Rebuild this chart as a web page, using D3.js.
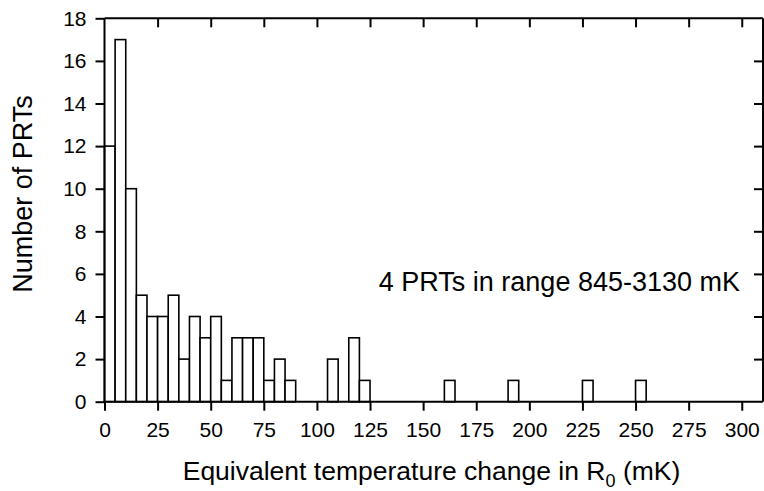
<!DOCTYPE html>
<html><head><meta charset="utf-8">
<script src="https://cdn.jsdelivr.net/npm/d3@7"></script>
<style>body{margin:0;background:#fff;} text{font-family:Arial,"Liberation Sans",sans-serif;fill:#000;}</style>
</head><body>
<svg id="chart" width="764" height="491"></svg>
<script>
const binStarts = [0,5,10,15,20,25,30,35,40,45,50,55,60,65,70,75,80,85,105,115,120,160,190,225,250];
const counts    = [12,17,10,5,4,4,5,2,4,3,4,1,3,3,3,1,2,1,2,3,1,1,1,1,1];
const binWidth = 5;
const xTicks = [0,25,50,75,100,125,150,175,200,225,250,275,300];
const yTicks = [0,2,4,6,8,10,12,14,16,18];
const xTitle = "Equivalent temperature change in R";
const yTitle = "Number of PRTs";
const note = "4 PRTs in range 845-3130 mK";

(function(){
const svg = d3.select("#chart");
const L = 104.5, R = 763, T = 18.3, B = 401.7;
const x = d3.scaleLinear().domain([0,310]).range([L,R]);
const y = d3.scaleLinear().domain([0,18]).range([B,T]);

svg.append("g").selectAll("rect").data(binStarts).join("rect")
  .attr("x", (d)=>x(d)).attr("width", (d)=>x(d+binWidth)-x(d))
  .attr("y", (d,i)=>y(counts[i])).attr("height", (d,i)=>y(0)-y(counts[i]))
  .attr("fill","#fff").attr("stroke","#000").attr("stroke-width",1.6);

const ax = svg.append("g");
const gB = ax.append("g").attr("transform",`translate(0,${B})`)
  .call(d3.axisBottom(x).tickValues(xTicks).tickSize(9).tickPadding(11).tickSizeOuter(0));
const gT = ax.append("g").attr("transform",`translate(0,${T})`)
  .call(d3.axisBottom(x).tickValues(xTicks).tickSize(9).tickFormat("").tickSizeOuter(0));
const gL = ax.append("g").attr("transform",`translate(${L},0)`)
  .call(d3.axisLeft(y).tickValues(yTicks).tickSize(9).tickPadding(9).tickSizeOuter(0));
const gR = ax.append("g").attr("transform",`translate(${R},0)`)
  .call(d3.axisLeft(y).tickValues(yTicks).tickSize(9).tickFormat("").tickSizeOuter(0));
ax.selectAll(".domain").attr("stroke","#000").attr("stroke-width",2);
ax.selectAll(".tick line").attr("stroke","#000").attr("stroke-width",2);
ax.selectAll(".tick text").attr("font-size",21).attr("font-family","Arial, 'Liberation Sans', sans-serif").attr("fill","#000");
gT.selectAll(".tick").filter(d=>d===0).remove();
gB.select(".domain").attr("d",`M${L},0H${R}`);
gT.select(".domain").attr("d",`M${L},0H${R}`);
gL.select(".domain").attr("d",`M0,${T}V${B}`);
gR.select(".domain").attr("d",`M0,${T}V${B}`);
gR.selectAll(".tick").filter(d=>d===0 || d===18).remove();

const xt = svg.append("text").attr("x",431.5).attr("y",480).attr("text-anchor","middle").attr("font-size",26.5);
xt.append("tspan").text(xTitle);
xt.append("tspan").attr("font-size",18).attr("dy",7).text("0");
xt.append("tspan").attr("dy",-7).text(" (mK)");
svg.append("text").attr("transform","translate(32,194) rotate(-90)").attr("text-anchor","middle")
  .attr("font-size",27).text(yTitle);
svg.append("text").attr("x",740).attr("y",291).attr("text-anchor","end").attr("font-size",27).text(note);
})();
</script>
</body></html>
